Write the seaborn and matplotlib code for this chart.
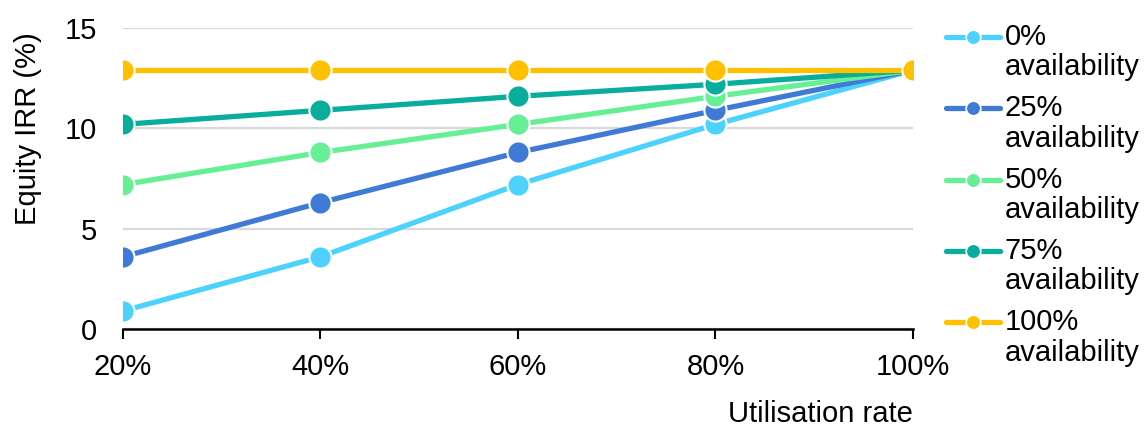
import matplotlib
matplotlib.use("Agg")
import matplotlib.pyplot as plt
import seaborn as sns
import pandas as pd
from matplotlib.ticker import FuncFormatter
from matplotlib.legend_handler import HandlerLine2D
from matplotlib.transforms import Affine2D

# Utilisation rate (%) on the x axis
utilisation = [20, 40, 60, 80, 100]

# Equity IRR (%) for each availability scenario
irr_0 = [0.9, 3.6, 7.2, 10.2, 12.9]
irr_25 = [3.6, 6.3, 8.8, 10.9, 12.9]
irr_50 = [7.2, 8.8, 10.2, 11.6, 12.9]
irr_75 = [10.2, 10.9, 11.6, 12.2, 12.9]
irr_100 = [12.9, 12.9, 12.9, 12.9, 12.9]

series_labels = ["0%\navailability", "25%\navailability", "50%\navailability",
                 "75%\navailability", "100%\navailability"]
series_colors = ["#4cd2fc", "#3f7bd6", "#66ef94", "#08ad9c", "#ffc000"]

rows = []
for label, vals in zip(series_labels, [irr_0, irr_25, irr_50, irr_75, irr_100]):
    for u, v in zip(utilisation, vals):
        rows.append({"Utilisation rate": u, "Equity IRR (%)": v, "series": label})
df = pd.DataFrame(rows)

sns.set_theme(style="white")
plt.rcParams["font.family"] = ["Liberation Sans", "DejaVu Sans"]

FS = 21
LEG_FS = 21


class FirstLineHandler(HandlerLine2D):
    """Legend handle drawn level with the first line of a two-line label."""

    def __init__(self, shift_px, **kw):
        super().__init__(**kw)
        self.shift_px = shift_px

    def create_artists(self, legend, orig_handle, xdescent, ydescent,
                       width, height, fontsize, trans):
        arts = super().create_artists(legend, orig_handle, xdescent, ydescent,
                                      width, height, fontsize, trans)
        t = trans + Affine2D().translate(0, self.shift_px)
        for a in arts:
            a.set_transform(t)
        return arts


fig = plt.figure(figsize=(11.44, 4.26), dpi=100)
ax = fig.add_axes([0.1075, 0.2277, 0.6905, 0.7063])

sns.lineplot(data=df, x="Utilisation rate", y="Equity IRR (%)", hue="series",
             hue_order=series_labels, palette=series_colors, marker="o",
             markersize=16, markeredgecolor="white", markeredgewidth=1.5,
             linewidth=3.8, ax=ax, legend=True)

ax.set_xlim(20, 100)
ax.set_ylim(0, 15)
ax.set_xticks(utilisation)
ax.xaxis.set_major_formatter(FuncFormatter(lambda v, p: f"{int(v)}%"))
ax.set_yticks([0, 5, 10, 15])
ax.yaxis.grid(True, color="#d9d9d9", linewidth=1.6)
ax.set_axisbelow(True)

for side in ["top", "right", "left"]:
    ax.spines[side].set_visible(False)
ax.spines["bottom"].set_color("black")
ax.spines["bottom"].set_linewidth(1.8)

ax.tick_params(axis="x", which="both", bottom=True, length=7, width=1.5,
               color="black", labelsize=FS, pad=10)
ax.tick_params(axis="y", left=False, length=0, labelsize=FS, pad=18.5)
for lbl in ax.get_xticklabels() + ax.get_yticklabels():
    lbl.set_color("black")

ax.set_ylabel("Equity IRR (%)", fontsize=FS, color="black")
ax.yaxis.set_label_coords(-0.1025, 0.665)
ax.set_xlabel("Utilisation rate", fontsize=FS, color="black")
ax.xaxis.set_label_coords(1.0, -0.235)
ax.xaxis.label.set_horizontalalignment("right")

handles, labels = ax.get_legend_handles_labels()
for h in handles:
    h.set_markersize(10.5)
    h.set_markeredgecolor("white")
    h.set_markeredgewidth(1.2)
    h.set_linewidth(3.8)

leg = ax.legend(handles, labels, loc="upper left", bbox_to_anchor=(1.042, 1.017),
                frameon=False, fontsize=LEG_FS, handlelength=1.85,
                handletextpad=0.15, labelspacing=0.45, borderaxespad=0,
                borderpad=0,
                handler_map={h: FirstLineHandler(16) for h in handles})
for t in leg.get_texts():
    t.set_linespacing(1.1)
    t.set_color("black")

fig.savefig("out.png", dpi=100)
